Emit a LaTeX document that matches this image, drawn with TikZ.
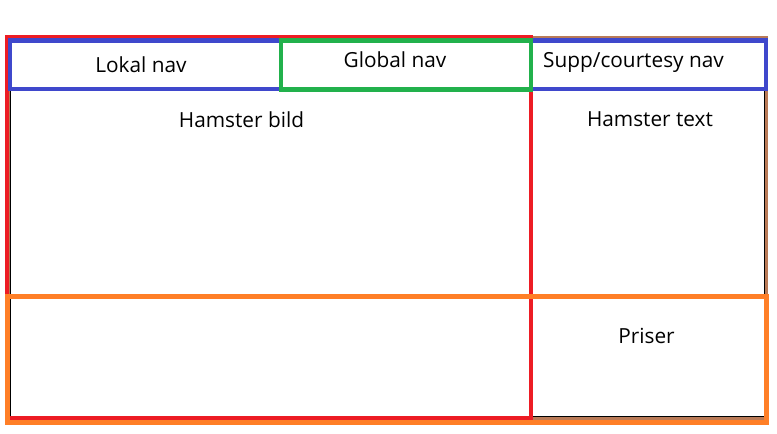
\documentclass[tikz,border=0pt]{standalone}
\usepackage{fontspec}
\setmainfont{Open Sans}
\definecolor{pbrown}{RGB}{185,122,87}
\definecolor{pred}{RGB}{237,28,36}
\definecolor{pblue}{RGB}{63,72,204}
\definecolor{pgreen}{RGB}{34,177,76}
\definecolor{porange}{RGB}{255,127,39}
\tikzset{
  lbl/.style={anchor=base, inner sep=0pt, font=\fontsize{20.8}{24}\selectfont},
  box/.style={line width=#1}
}
\begin{document}
\begin{tikzpicture}[x=1pt, y=-1pt]
            \useasboundingbox (0, 0) rectangle (777, 434);

            % frames
            \draw[box=3pt, pbrown] (8, 37.5) rectangle (766, 418);
            \draw[box=0.8pt, black] (10.5, 40) rectangle (764, 416.5);
            \draw[box=4pt, pred] (7, 37) rectangle (531, 418);
            \draw[box=5pt, porange] (7.5, 296.5) rectangle (766, 422.5);
            \draw[box=4.5pt, pblue] (10, 40.5) rectangle (766, 89);
            \draw[box=4.5pt, pgreen] (281, 40.5) rectangle (531, 89.5);

            % labels
            \node[lbl] (lokal) at (141, 72) {Lokal nav};
            \node[lbl] (global) at (395, 67) {Global nav};
            \node[lbl] (supp) at (633.5, 67) {Supp/courtesy nav};
            \node[lbl] (bild) at (241.5, 127) {Hamster bild};
            \node[lbl] (text) at (650, 126) {Hamster text};
            \node[lbl] (priser) at (646.5, 343) {Priser};
        \end{tikzpicture}
\end{document}
